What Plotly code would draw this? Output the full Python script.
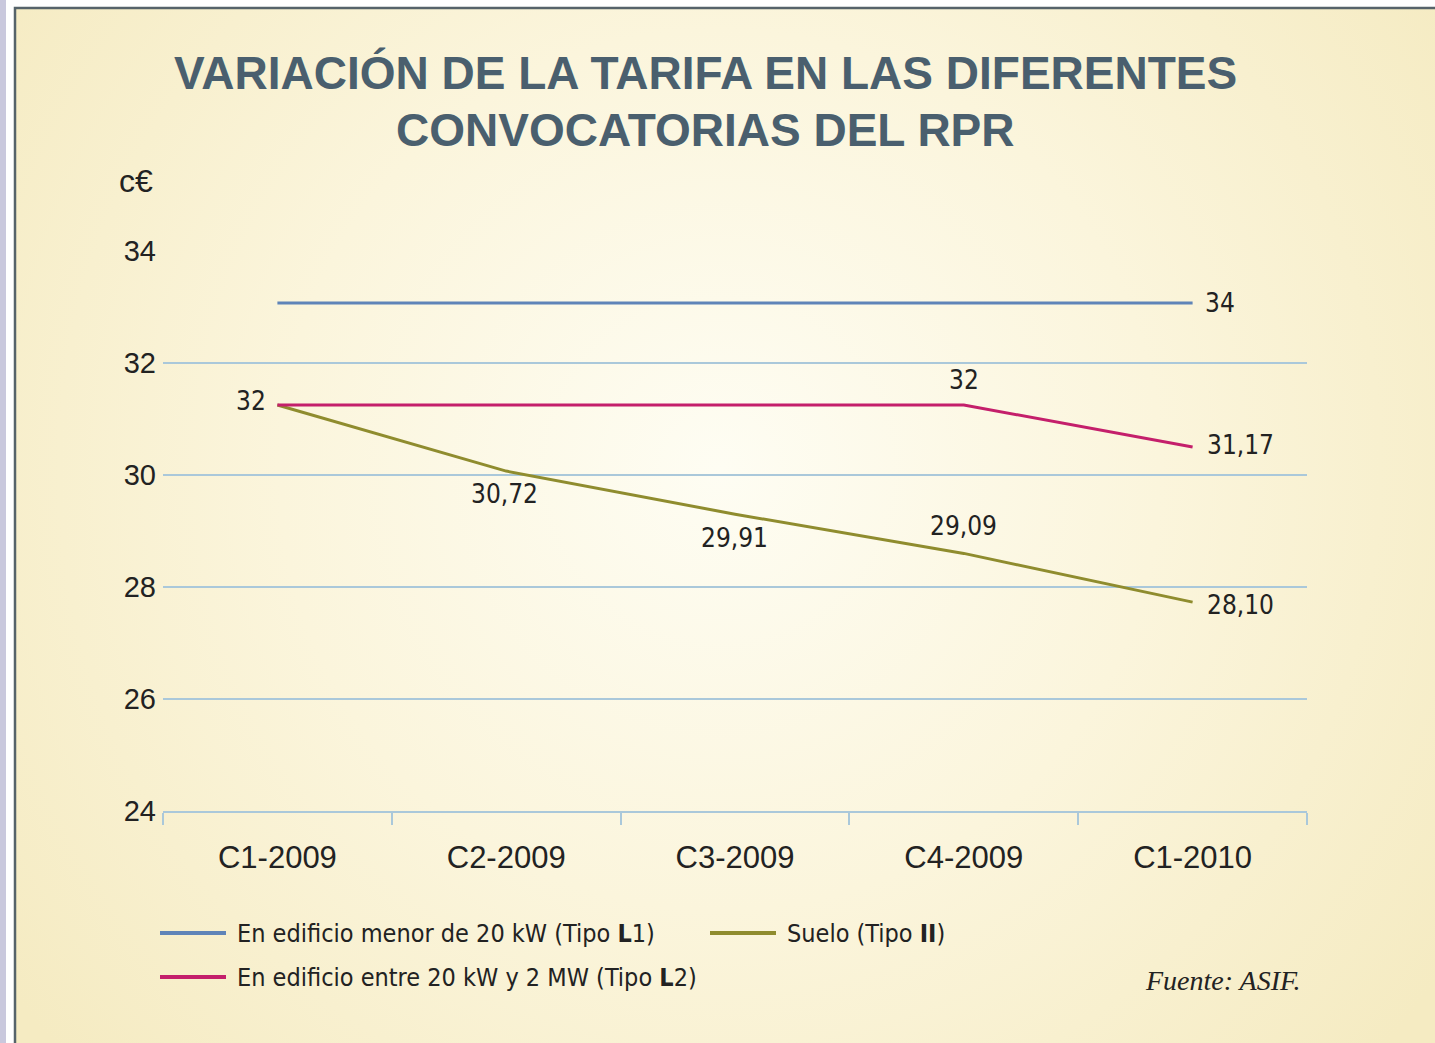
import base64
import plotly.graph_objects as go

# Data (c€ per kWh), plotted where the lines sit in the picture
convocatorias = ["C1-2009", "C2-2009", "C3-2009", "C4-2009", "C1-2010"]
tipo_l1 = [33.07, 33.07, 33.07, 33.07, 33.07]
tipo_l2 = [31.25, 31.25, 31.25, 31.25, 30.5]
suelo = [31.25, 30.07, 29.3, 28.6, 27.73]

# Value labels printed next to the points
labels_l1 = ["", "", "", "", "34"]
labels_l2 = ["32", "", "", "32", "31,17"]
labels_suelo = ["", "30,72", "29,91", "29,09", "28,10"]

y_ticks = [24, 26, 28, 30, 32, 34]

names = [
    "En edificio menor de 20 kW (Tipo <b>L</b>1)",
    "Suelo (Tipo <b>II</b>)",
    "En edificio entre 20 kW y 2 MW (Tipo <b>L</b>2)",
]
colors = ["#5f84b8", "#8f8c2e", "#c41f6b"]

W, H = 1435, 1043
ML, MR, MT, MB = 163, 128, 251, 232
PW, PH = W - ML - MR, H - MT - MB


def px(x):
    return (x - ML) / PW


def py(y):
    return (H - MB - y) / PH


narrow = "Liberation Sans Narrow, Arial Narrow, DejaVu Sans Condensed, Liberation Sans"
sans = "Liberation Sans, Arial, Helvetica"
ink = "#222222"

# cream panel with a radial glow, drawn as an svg behind everything
svg = f"""<svg xmlns="http://www.w3.org/2000/svg" width="{W}" height="{H}" viewBox="0 0 {W} {H}" preserveAspectRatio="none">
<defs><radialGradient id="g" cx="720" cy="470" r="880" gradientUnits="userSpaceOnUse">
<stop offset="0" stop-color="#fefdf3"/><stop offset="0.5" stop-color="#fbf5dc"/><stop offset="1" stop-color="#f5ebc2"/>
</radialGradient></defs>
<rect width="{W}" height="{H}" fill="#ffffff"/>
<rect x="0" y="0" width="6" height="{H}" fill="#c9c8dd"/>
<rect x="15" y="8" width="{W}" height="{H}" fill="url(#g)" stroke="#56636a" stroke-width="2.5"/>
</svg>"""
bg = "data:image/svg+xml;base64," + base64.b64encode(svg.encode()).decode()

fig = go.Figure()
for vals, name, color in zip([tipo_l1, suelo, tipo_l2], names, colors):
    fig.add_trace(go.Scatter(
        x=convocatorias, y=vals, name=name, mode="lines",
        line=dict(color=color, width=3), showlegend=False,
    ))

# label placement: (xanchor, xshift, yshift) per point
place_l1 = [None, None, None, None, ("left", 10, 0)]
place_l2 = [("right", -9, 4), None, None, ("center", 0, 25), ("left", 12, 2)]
place_suelo = [None, ("center", -2, -23), ("center", -1, -24), ("center", 0, 27), ("left", 12, -3)]

annotations = []
for vals, labels, places in [(tipo_l1, labels_l1, place_l1),
                             (tipo_l2, labels_l2, place_l2),
                             (suelo, labels_suelo, place_suelo)]:
    for cat, v, lab, pl in zip(convocatorias, vals, labels, places):
        if not lab:
            continue
        annotations.append(dict(
            x=cat, y=v, xref="x", yref="y", text=lab, showarrow=False,
            xanchor=pl[0], yanchor="middle", xshift=pl[1], yshift=pl[2],
            font=dict(family=narrow, size=26, color=ink),
        ))

# title, unit and source
annotations += [
    dict(text="VARIACIÓN DE LA TARIFA EN LAS DIFERENTES", x=px(705), y=py(73),
         font=dict(family=sans, size=46, color="#4a5f6e", weight="bold")),
    dict(text="CONVOCATORIAS DEL RPR", x=px(705), y=py(130),
         font=dict(family=sans, size=46, color="#4a5f6e", weight="bold")),
]
for a in annotations[-2:]:
    a.update(xref="paper", yref="paper", xanchor="center", yanchor="middle", showarrow=False)

annotations.append(dict(text="c€", xref="paper", yref="paper", x=px(117), y=py(181),
                        xanchor="left", yanchor="middle", showarrow=False,
                        font=dict(family=sans, size=32, color=ink)))
annotations.append(dict(text="<i>Fuente: ASIF.</i>", xref="paper", yref="paper", x=px(1302), y=py(980),
                        xanchor="right", yanchor="middle", showarrow=False,
                        font=dict(family="Liberation Serif, Times New Roman", size=28, color=ink)))

# legend drawn by hand to match the long swatches of the original
legend_pos = [(160, 933), (710, 933), (160, 977)]
shapes = []
for (lx, ly), name, color in zip(legend_pos, names, colors):
    shapes.append(dict(type="line", xref="paper", yref="paper",
                       x0=px(lx), x1=px(lx + 66), y0=py(ly), y1=py(ly),
                       line=dict(color=color, width=4)))
    annotations.append(dict(text=name, xref="paper", yref="paper", x=px(lx + 75), y=py(ly),
                            xanchor="left", yanchor="middle", showarrow=False,
                            font=dict(family=narrow, size=25, color=ink)))

fig.update_layout(
    width=W, height=H,
    margin=dict(l=ML, r=MR, t=MT, b=MB),
    paper_bgcolor="#ffffff",
    plot_bgcolor="rgba(0,0,0,0)",
    images=[dict(
        source=bg, xref="paper", yref="paper",
        x=-ML / PW, y=1 + MT / PH, sizex=W / PW, sizey=H / PH,
        xanchor="left", yanchor="top", sizing="stretch", layer="below",
    )],
    xaxis=dict(
        type="category", range=[-0.5, 4.5], tickson="boundaries",
        ticks="outside", ticklen=12, tickwidth=2, tickcolor="#aac8da",
        showline=True, linecolor="#aac8da", linewidth=2, showgrid=False,
        ticklabelstandoff=18,
        tickfont=dict(family=sans, size=31, color=ink),
    ),
    yaxis=dict(
        range=[24, 34], tickvals=y_ticks, ticks="", showline=False,
        gridcolor="#aac8da", gridwidth=1.5, zeroline=False,
        ticklabelstandoff=6,
        tickfont=dict(family=sans, size=29, color=ink),
    ),
    annotations=annotations,
    shapes=shapes,
    showlegend=False,
)

# drop the page's default 8px body margin so the figure sits at the window corner
fig.write_html("out.html", config={"displayModeBar": False},
               post_script="document.body.style.margin='0';")
